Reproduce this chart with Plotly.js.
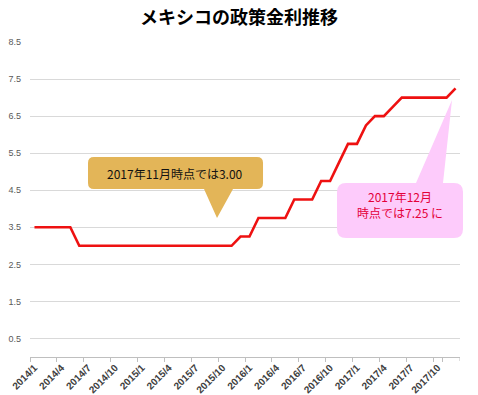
<!DOCTYPE html>
<html>
<head>
<meta charset="utf-8">
<script src="https://cdn.plot.ly/plotly-3.0.1.min.js"></script>
<style>html,body{margin:0;padding:0;background:#fff;}#chart{width:478px;height:395px;}</style>
</head>
<body>
<div id="chart"></div>
<script>
// Data
const months = [];
for (let y = 2014; y <= 2017; y++) for (let m = 1; m <= 12; m++) months.push(y + '/' + m);
const policyRate = [
  3.5, 3.5, 3.5, 3.5, 3.5,
  3.0, 3.0, 3.0, 3.0, 3.0, 3.0, 3.0, 3.0, 3.0, 3.0, 3.0, 3.0, 3.0, 3.0, 3.0, 3.0, 3.0, 3.0,
  3.25, 3.25,
  3.75, 3.75, 3.75, 3.75,
  4.25, 4.25, 4.25,
  4.75, 4.75,
  5.25,
  5.75, 5.75,
  6.25,
  6.5, 6.5,
  6.75,
  7.0, 7.0, 7.0, 7.0, 7.0, 7.0,
  7.25
];
const tickLabels = ['2014/1','2014/4','2014/7','2014/10','2015/1','2015/4','2015/7','2015/10','2016/1','2016/4','2016/7','2016/10','2017/1','2017/4','2017/7','2017/10'];
const yTicks = [0.5, 1.5, 2.5, 3.5, 4.5, 5.5, 6.5, 7.5, 8.5];

const W = 478, H = 395;
const M = {l: 30, r: 18, t: 42, b: 38};
const PW = W - M.l - M.r, PH = H - M.t - M.b;
const px = x => ((x - M.l) / PW).toFixed(4);
const py = y => ((H - M.b - y) / PH).toFixed(4);
function P(x, y) { return px(x) + ',' + py(y); }

function calloutBottom(x0, y0, x1, y1, r, t0, tip, t1) {
  return 'M' + P(x0 + r, y0) + ' L' + P(x1 - r, y0) + ' Q' + P(x1, y0) + ' ' + P(x1, y0 + r) +
    ' L' + P(x1, y1 - r) + ' Q' + P(x1, y1) + ' ' + P(x1 - r, y1) +
    ' L' + P(t1, y1) + ' L' + P(tip[0], tip[1]) + ' L' + P(t0, y1) +
    ' L' + P(x0 + r, y1) + ' Q' + P(x0, y1) + ' ' + P(x0, y1 - r) +
    ' L' + P(x0, y0 + r) + ' Q' + P(x0, y0) + ' ' + P(x0 + r, y0) + ' Z';
}
function calloutTop(x0, y0, x1, y1, r, t0, tip, t1) {
  return 'M' + P(x0 + r, y0) + ' L' + P(t0, y0) + ' L' + P(tip[0], tip[1]) + ' L' + P(t1, y0) +
    ' L' + P(x1 - r, y0) + ' Q' + P(x1, y0) + ' ' + P(x1, y0 + r) +
    ' L' + P(x1, y1 - r) + ' Q' + P(x1, y1) + ' ' + P(x1 - r, y1) +
    ' L' + P(x0 + r, y1) + ' Q' + P(x0, y1) + ' ' + P(x0, y1 - r) +
    ' L' + P(x0, y0 + r) + ' Q' + P(x0, y0) + ' ' + P(x0 + r, y0) + ' Z';
}

const jp = '"Noto Sans CJK JP", "Noto Sans", sans-serif';

const trace = {
  x: months, y: policyRate, type: 'scatter', mode: 'lines',
  line: {color: '#EE1111', width: 2.6}, hoverinfo: 'skip'
};

const layout = {
  width: W, height: H,
  margin: M,
  paper_bgcolor: '#fff', plot_bgcolor: '#fff',
  showlegend: false,
  title: {text: '<b>メキシコの政策金利推移</b>', x: 0.5, xanchor: 'center', y: 0.955, yanchor: 'middle',
          font: {family: jp, size: 18, color: '#000'}},
  xaxis: {
    type: 'category', range: [-0.5, 47.5],
    tickmode: 'array', tickvals: tickLabels, ticktext: tickLabels,
    tickson: 'boundaries', ticks: 'outside', ticklen: 4, tickcolor: '#BFBFBF',
    tickangle: -45, showgrid: false, zeroline: false,
    showline: true, linecolor: '#BFBFBF', linewidth: 1,
    tickfont: {family: '"Liberation Sans", Arial, sans-serif', size: 10, color: '#404040', weight: 'bold'}
  },
  yaxis: {
    range: [0, 8.5], tickmode: 'array', tickvals: yTicks, ticktext: yTicks.map(v => v.toFixed(1)),
    showgrid: true, gridcolor: '#D9D9D9', gridwidth: 1, zeroline: false, showline: false,
    ticks: '', ticklabelstandoff: 8,
    tickfont: {family: '"Liberation Sans", Arial, sans-serif', size: 9, color: '#595959'}
  },
  shapes: [
    {type: 'line', xref: 'x', yref: 'paper', x0: 47.5, x1: 47.5, y0: 0, y1: -4 / PH,
     line: {color: '#BFBFBF', width: 1}},
    {type: 'path', xref: 'paper', yref: 'paper', layer: 'above',
     path: calloutBottom(88, 157, 263, 189, 6, 204, [217, 218], 233),
     fillcolor: '#E3B558', line: {width: 0}},
    {type: 'path', xref: 'paper', yref: 'paper', layer: 'above',
     path: calloutTop(337, 183, 463, 238, 9, 416, [452, 100], 443),
     fillcolor: '#FDCBFB', line: {width: 0}}
  ],
  annotations: [
    {xref: 'paper', yref: 'paper', x: Number(px(175)), y: Number(py(173)), xanchor: 'center', yanchor: 'middle',
     text: '2017年11月時点では3.00', showarrow: false, font: {family: jp, size: 12, color: '#111'}},
    {xref: 'paper', yref: 'paper', x: Number(px(400)), y: Number(py(204)), xanchor: 'center', yanchor: 'middle',
     text: '2017年12月<br>時点では7.25 に', showarrow: false, font: {family: jp, size: 12, color: '#E4003A'}}
  ]
};

Plotly.newPlot('chart', [trace], layout, {displayModeBar: false, staticPlot: true});
</script>
</body>
</html>
